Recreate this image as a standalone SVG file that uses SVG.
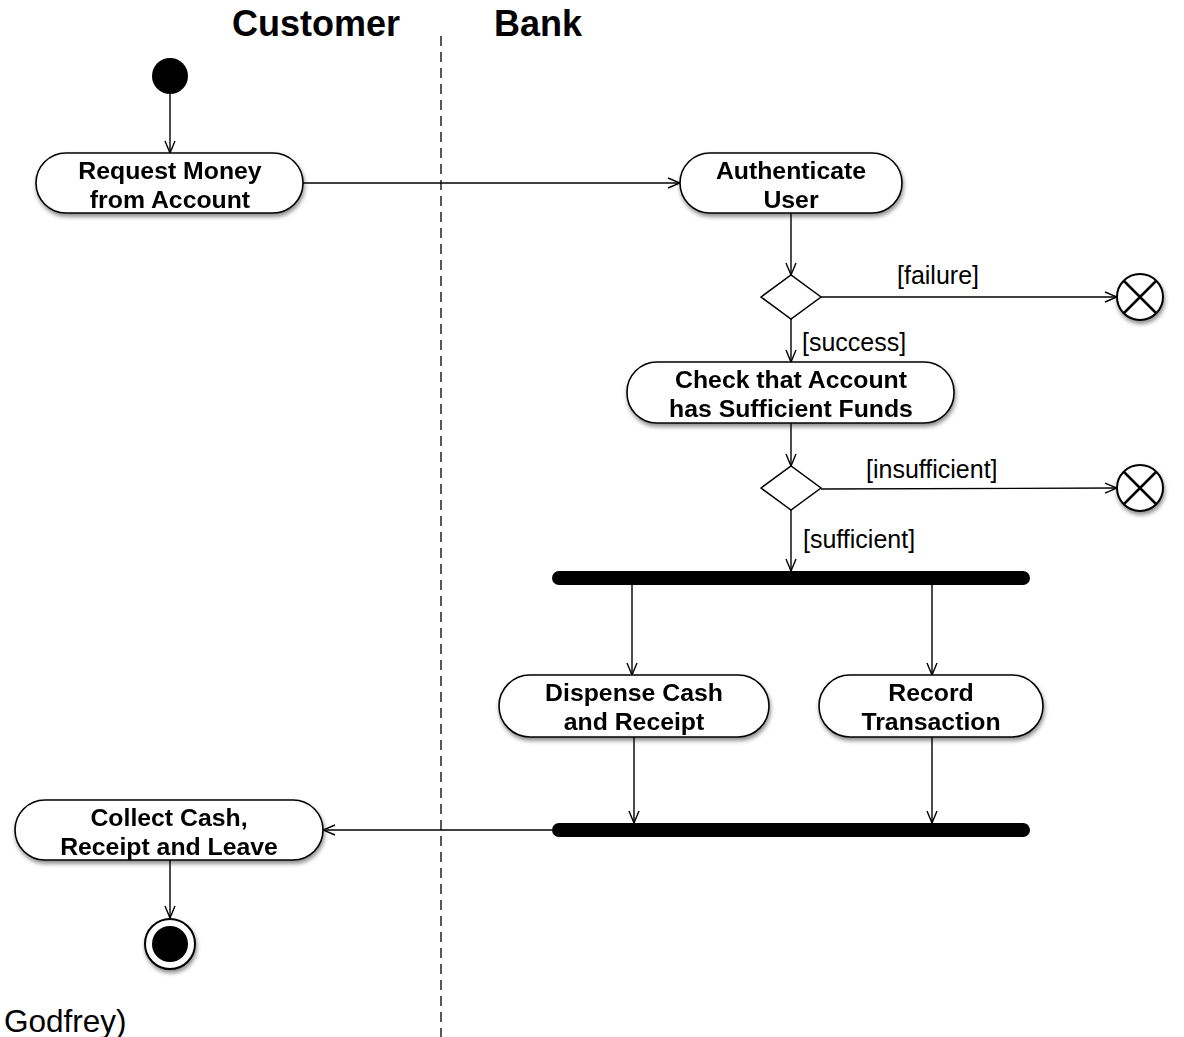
<svg xmlns="http://www.w3.org/2000/svg" width="1184" height="1037" viewBox="0 0 1184 1037">
<style>
.lane{font-family:"Liberation Sans",Arial,sans-serif;font-weight:bold;font-size:36px;fill:#000}
.act{fill:#fff;stroke:#000;stroke-width:1.6}
.lbl{font-family:"Liberation Sans",Arial,sans-serif;font-weight:bold;font-size:24.8px;fill:#000;text-anchor:middle}
.grd{font-family:"Liberation Sans",Arial,sans-serif;font-size:25px;fill:#000}
.edge{stroke:#000;stroke-width:1.4;fill:none;marker-end:url(#arr)}
.bar{stroke:#000;stroke-width:14;stroke-linecap:round}
</style>
<defs>
<filter id="sh" x="-20%" y="-20%" width="140%" height="160%">
<feDropShadow dx="1" dy="3" stdDeviation="2" flood-color="#000" flood-opacity="0.45"/>
</filter>
<marker id="arr" markerWidth="14" markerHeight="12" refX="13" refY="6" orient="auto" markerUnits="userSpaceOnUse">
<path d="M1,1 L13,6 L1,11" fill="none" stroke="#000" stroke-width="1.4"/>
</marker>
</defs>
<rect width="1184" height="1037" fill="#fff"/>
<g id="swimlanes">
<text class="lane" x="316" y="36" text-anchor="middle">Customer</text>
<text class="lane" x="538" y="36" text-anchor="middle">Bank</text>
<line x1="441" y1="36" x2="441" y2="1037" stroke="#000" stroke-width="1.3" stroke-dasharray="10,6"/>
</g>
<g id="connectors">
<line class="edge" x1="170" y1="94" x2="170" y2="153"/>
<line class="edge" x1="303" y1="183" x2="680" y2="183"/>
<line class="edge" x1="791" y1="213" x2="791" y2="275"/>
<line class="edge" x1="821" y1="297" x2="1117" y2="297"/>
<line class="edge" x1="791" y1="319" x2="791" y2="362"/>
<line class="edge" x1="791" y1="423" x2="791" y2="466"/>
<line class="edge" x1="821" y1="489" x2="1117" y2="488"/>
<line class="edge" x1="791" y1="510" x2="791" y2="571"/>
<line class="edge" x1="632" y1="585" x2="632" y2="675"/>
<line class="edge" x1="932" y1="585" x2="932" y2="675"/>
<line class="edge" x1="634" y1="737" x2="634" y2="823"/>
<line class="edge" x1="932" y1="737" x2="932" y2="823"/>
<line class="edge" x1="552" y1="830" x2="323" y2="830"/>
<line class="edge" x1="170" y1="860" x2="170" y2="918"/>
<text class="grd" x="897" y="284">[failure]</text>
<text class="grd" x="802" y="351">[success]</text>
<text class="grd" x="866" y="478">[insufficient]</text>
<text class="grd" x="803" y="548">[sufficient]</text>
</g>
<g id="start"><circle cx="170" cy="76" r="18" fill="#000"/></g>
<g id="request" filter="url(#sh)">
<rect class="act" x="36" y="153" width="267" height="60" rx="30"/>
<text class="lbl" x="170" y="179">Request Money</text>
<text class="lbl" x="170" y="208">from Account</text>
</g>
<g id="authenticate" filter="url(#sh)">
<rect class="act" x="680" y="153" width="222" height="60" rx="30"/>
<text class="lbl" x="791" y="179">Authenticate</text>
<text class="lbl" x="791" y="208">User</text>
</g>
<g id="decision1"><polygon points="761,297 791,275 821,297 791,319" fill="#fff" stroke="#000" stroke-width="1.5"/></g>
<g id="fail1" filter="url(#sh)">
<circle cx="1140" cy="297" r="23" fill="#fff" stroke="#000" stroke-width="2"/>
<path d="M1124,281 L1156,313 M1156,281 L1124,313" stroke="#000" stroke-width="2.5"/>
</g>
<g id="check" filter="url(#sh)">
<rect class="act" x="627" y="362" width="327" height="61" rx="30"/>
<text class="lbl" x="791" y="388">Check that Account</text>
<text class="lbl" x="791" y="417">has Sufficient Funds</text>
</g>
<g id="decision2"><polygon points="761,488 791,466 821,488 791,510" fill="#fff" stroke="#000" stroke-width="1.5"/></g>
<g id="fail2" filter="url(#sh)">
<circle cx="1140" cy="488" r="23" fill="#fff" stroke="#000" stroke-width="2"/>
<path d="M1124,472 L1156,504 M1156,472 L1124,504" stroke="#000" stroke-width="2.5"/>
</g>
<g id="fork"><line class="bar" x1="559" y1="578" x2="1023" y2="578"/></g>
<g id="dispense" filter="url(#sh)">
<rect class="act" x="499" y="675" width="270" height="62" rx="31"/>
<text class="lbl" x="634" y="701">Dispense Cash</text>
<text class="lbl" x="634" y="730">and Receipt</text>
</g>
<g id="record" filter="url(#sh)">
<rect class="act" x="819" y="675" width="224" height="62" rx="31"/>
<text class="lbl" x="931" y="701">Record</text>
<text class="lbl" x="931" y="730">Transaction</text>
</g>
<g id="join"><line class="bar" x1="559" y1="830" x2="1023" y2="830"/></g>
<g id="collect" filter="url(#sh)">
<rect class="act" x="15" y="800" width="308" height="60" rx="30"/>
<text class="lbl" x="169" y="826">Collect Cash,</text>
<text class="lbl" x="169" y="855">Receipt and Leave</text>
</g>
<g id="end" filter="url(#sh)">
<circle cx="170" cy="944" r="25" fill="#fff" stroke="#000" stroke-width="2"/>
<circle cx="170" cy="944" r="18" fill="#000"/>
</g>
<text x="4" y="1032" font-family="Liberation Sans, Arial, sans-serif" font-size="31.5" fill="#000">Godfrey)</text>
</svg>
